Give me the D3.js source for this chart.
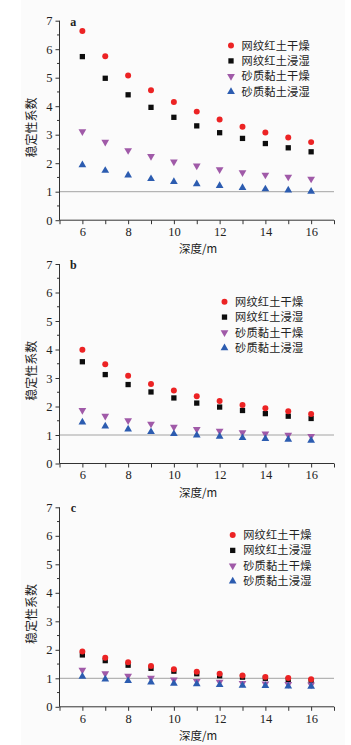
<!DOCTYPE html>
<html>
<head>
<meta charset="utf-8">
<script src="https://cdn.jsdelivr.net/npm/d3@7"></script>
<style>
  html, body { margin: 0; padding: 0; background: #fff; }
  svg { display: block; }
</style>
</head>
<body>
<svg id="chart"></svg>
<script>
// depths (m)
const depths = [6, 7, 8, 9, 10, 11, 12, 13, 14, 15, 16];
const seriesNames = ["网纹红土干燥", "网纹红土浸湿", "砂质黏土干燥", "砂质黏土浸湿"];
const yTicks = [0, 1, 2, 3, 4, 5, 6, 7];
const xTickLabels = [6, 8, 10, 12, 14, 16];
const panelLabels = ["a", "b", "c"];

// panel a
const aRedDry   = [6.64, 5.75, 5.08, 4.56, 4.15, 3.81, 3.53, 3.28, 3.08, 2.90, 2.74];
const aRedWet   = [5.74, 4.98, 4.40, 3.96, 3.61, 3.31, 3.07, 2.87, 2.69, 2.54, 2.40];
const aClayDry  = [3.11, 2.74, 2.45, 2.24, 2.05, 1.91, 1.78, 1.67, 1.59, 1.52, 1.45];
const aClayWet  = [1.94, 1.74, 1.58, 1.45, 1.35, 1.27, 1.21, 1.14, 1.09, 1.05, 1.01];
// panel b
const bRedDry   = [3.99, 3.48, 3.08, 2.79, 2.56, 2.36, 2.19, 2.05, 1.94, 1.83, 1.74];
const bRedWet   = [3.57, 3.12, 2.77, 2.51, 2.30, 2.12, 1.98, 1.86, 1.75, 1.66, 1.58];
const bClayDry  = [1.87, 1.67, 1.51, 1.39, 1.28, 1.20, 1.14, 1.09, 1.04, 1.00, 0.96];
const bClayWet  = [1.45, 1.31, 1.20, 1.11, 1.04, 0.99, 0.95, 0.90, 0.87, 0.84, 0.81];
// panel c
const cRedDry   = [1.94, 1.72, 1.56, 1.43, 1.32, 1.23, 1.16, 1.10, 1.05, 1.01, 0.97];
const cRedWet   = [1.82, 1.62, 1.46, 1.35, 1.25, 1.16, 1.09, 1.04, 1.00, 0.95, 0.91];
const cClayDry  = [1.29, 1.17, 1.08, 1.01, 0.95, 0.90, 0.87, 0.83, 0.81, 0.79, 0.77];
const cClayWet  = [1.06, 0.97, 0.91, 0.86, 0.82, 0.80, 0.77, 0.75, 0.74, 0.72, 0.71];

const panelData = [
  [aRedDry, aRedWet, aClayDry, aClayWet],
  [bRedDry, bRedWet, bClayDry, bClayWet],
  [cRedDry, cRedWet, cClayDry, cClayWet]
];

const width = 351, height = 745;
const colors = ["#ec2324", "#0d0d0d", "#a05aa8", "#2c5cb0"];
const numFont = "'Liberation Serif', 'DejaVu Serif', serif";
const cjkFont = "'Noto Sans CJK SC', sans-serif";

// layout of each panel: pixel of y=7, legend marker x / first row y
const panels = [
  {top: 20.7, legX: 231, legY: 45.5},
  {top: 264, legX: 224.5, legY: 301.7},
  {top: 507.3, legX: 232.7, legY: 535}
];
const plotH = 199.5;

const x = d3.scaleLinear().domain([5, 17]).range([59.5, 334]);

const svg = d3.select("#chart")
  .attr("width", width)
  .attr("height", height);

// faint page background
svg.append("rect")
  .attr("x", 21).attr("y", 0)
  .attr("width", 324).attr("height", height)
  .attr("fill", "#fbfbfb");

const symbols = [
  d3.symbol().type(d3.symbolCircle).size(28),
  d3.symbol().type(d3.symbolSquare).size(28),
  d3.symbol().type(d3.symbolTriangle).size(26),
  d3.symbol().type(d3.symbolTriangle).size(26)
];
const rot = [0, 0, 180, 0];
const drawOrder = [1, 0, 2, 3];

panels.forEach((p, pi) => {
  const y = d3.scaleLinear().domain([0, 7]).range([p.top + plotH, p.top]);
  const g = svg.append("g");

  // reference line at 1
  g.append("line")
    .attr("x1", x(5)).attr("x2", x(17))
    .attr("y1", y(1)).attr("y2", y(1))
    .attr("stroke", "#a3a3a3").attr("stroke-width", 1);

  // y axis
  g.append("g")
    .attr("transform", `translate(${x(5)},0)`)
    .call(d3.axisLeft(y).tickValues(yTicks).tickSize(4).tickPadding(3).tickFormat(d3.format("d")))
    .call(a => a.select(".domain").attr("stroke", "#333").attr("d", `M0,${y(7)}V${y(0)}`))
    .call(a => a.selectAll(".tick line").attr("stroke", "#333"))
    .call(a => a.selectAll("text").attr("font-family", numFont).attr("font-size", 12.5).attr("fill", "#222"));
  g.append("g")
    .attr("transform", `translate(${x(5)},0)`)
    .selectAll("line")
    .data(d3.range(0.5, 7, 1))
    .join("line")
      .attr("x2", -2.5)
      .attr("y1", d => y(d)).attr("y2", d => y(d))
      .attr("stroke", "#333");

  // x axis
  g.append("g")
    .attr("transform", `translate(0,${y(0)})`)
    .call(d3.axisBottom(x).ticks(12).tickSize(4).tickPadding(3)
      .tickFormat(d => xTickLabels.includes(d) ? d : ""))
    .call(a => a.select(".domain").attr("stroke", "#333").attr("d", `M${x(5)},0H${x(17)}`))
    .call(a => a.selectAll(".tick line").attr("stroke", "#333"))
    .call(a => a.selectAll("text").attr("font-family", numFont).attr("font-size", 12.5).attr("fill", "#222"));

  // axis titles
  g.append("text")
    .attr("x", 198).attr("y", y(0) + 33)
    .attr("text-anchor", "middle")
    .attr("font-family", cjkFont).attr("font-size", 11.5).attr("fill", "#222")
    .text("深度/m");
  const cy = p.top + plotH / 2 + 7;
  g.append("text")
    .attr("transform", `translate(36,${cy}) rotate(-90)`)
    .attr("text-anchor", "middle")
    .attr("font-family", cjkFont).attr("font-size", 12).attr("fill", "#222")
    .text("稳定性系数");

  // panel label
  g.append("text")
    .attr("x", 73.3).attr("y", p.top + 5)
    .attr("text-anchor", "middle")
    .attr("font-family", numFont).attr("font-weight", "bold")
    .attr("font-size", 12).attr("fill", "#222")
    .text(panelLabels[pi]);

  // points
  drawOrder.forEach(si => {
    g.append("g")
      .selectAll("path")
      .data(depths.map((d, i) => [d, panelData[pi][si][i]]))
      .join("path")
        .attr("d", symbols[si])
        .attr("transform", d => `translate(${x(d[0])},${y(d[1])}) rotate(${rot[si]})`)
        .attr("fill", colors[si]);
  });

  // legend
  const leg = g.append("g")
    .selectAll("g")
    .data(seriesNames)
    .join("g")
      .attr("transform", (d, i) => `translate(${p.legX},${p.legY + i * 15.4})`);
  leg.append("path")
    .attr("d", (d, i) => symbols[i]())
    .attr("transform", (d, i) => `rotate(${rot[i]})`)
    .attr("fill", (d, i) => colors[i]);
  leg.append("text")
    .attr("x", 10.5).attr("dy", "0.36em")
    .attr("font-family", cjkFont).attr("font-size", 11.2)
    .attr("letter-spacing", 0.2).attr("fill", "#222")
    .text(d => d);
});
</script>
</body>
</html>
